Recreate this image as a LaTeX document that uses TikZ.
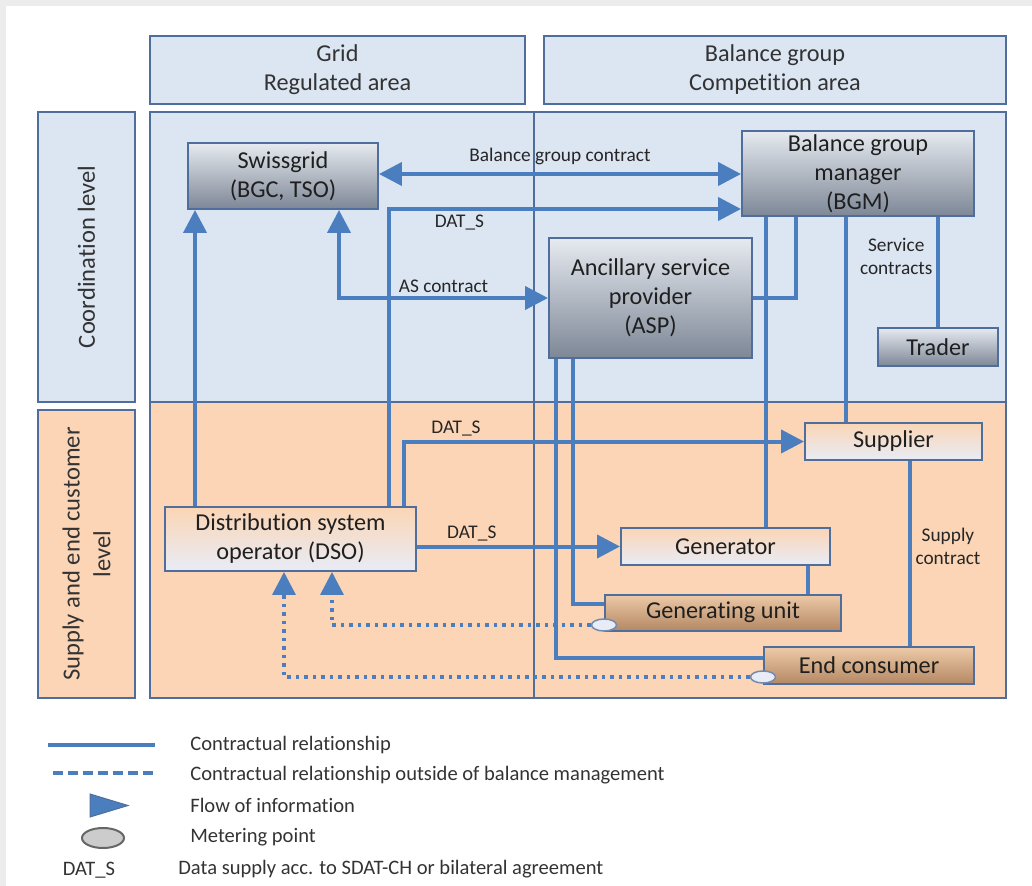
\documentclass[tikz,border=0pt]{standalone}
\usepackage{fontspec}
\setmainfont{Carlito}[Ligatures=NoCommon]
\usetikzlibrary{arrows.meta,shapes.geometric,positioning}

\definecolor{linkblue}{RGB}{74,126,190}
\definecolor{areablue}{RGB}{220,230,242}
\definecolor{areaorange}{RGB}{251,213,181}
\definecolor{frameblue}{RGB}{80,110,155}
\definecolor{boxtop}{RGB}{230,234,240}
\definecolor{boxbottom}{RGB}{125,135,150}
\definecolor{pale}{RGB}{232,236,246}
\definecolor{unittop}{RGB}{238,202,168}
\definecolor{unitbottom}{RGB}{180,136,100}
\definecolor{rimgray}{RGB}{236,236,236}

\tikzset{
  areaframe/.style={draw=frameblue, line width=0.04cm},
  headbox/.style={areaframe, fill=areablue, inner sep=0pt, align=center,
    text=black!80, font=\fontsize{13.8}{16.5}\selectfont},
  sidebox/.style={headbox, font=\fontsize{14}{17.5}\selectfont},
  actor/.style={draw=frameblue, line width=0.04cm, inner sep=0pt, align=center,
    text=black!88, font=\fontsize{13.8}{16.5}\selectfont},
  gridbox/.style={actor, top color=boxtop, bottom color=boxbottom},
  marketbox/.style={actor, top color=areaorange, bottom color=pale},
  unitbox/.style={actor, top color=unittop, bottom color=unitbottom},
  meterpt/.style={ellipse, draw=frameblue!80, fill=pale, line width=0.03cm,
    minimum width=0.5cm, minimum height=0.24cm, inner sep=0pt},
  contract/.style={draw=linkblue, line width=0.08cm},
  infoflow/.style={contract, -{Triangle[length=0.46cm,width=0.46cm]}},
  infoboth/.style={contract, {Triangle[length=0.46cm,width=0.46cm]}-{Triangle[length=0.46cm,width=0.46cm]}},
  metered/.style={contract, line width=0.07cm, dash pattern=on 0.07cm off 0.1cm,
    -{Triangle[length=0.46cm,width=0.46cm]}},
  lbl/.style={font=\fontsize{11}{13}\selectfont, text=black!85, inner sep=2pt, align=center},
  legend/.style={font=\fontsize{11.7}{14}\selectfont, text=black!80, inner sep=0pt, anchor=west}
}

\begin{document}
\begin{tikzpicture}[x=0.02cm,y=-0.02cm]
    \useasboundingbox (0,0) rectangle (1032,886);
    % Page rim
    \fill[rimgray] (0,0) rectangle (1032,6);
    \fill[rimgray] (0,0) rectangle (6,886);

    % Headers
    \node[headbox, minimum width=7.5cm, minimum height=1.36cm] (grid) at (337.5,70) {Grid\\Regulated area};
    \node[headbox, minimum width=9.24cm, minimum height=1.36cm] (bgroup) at (775,70) {Balance group\\Competition area};
    % Level labels
    \node[sidebox, rotate=90, minimum width=5.8cm, minimum height=1.94cm] (coordlevel) at (86.5,257) {Coordination level};
    \node[sidebox, fill=areaorange, rotate=90, minimum width=5.76cm, minimum height=1.94cm] (supplylevel) at (86.5,554) {Supply and end customer\\level};

    % Areas
    \filldraw[areaframe, fill=areablue] (150,112) rectangle (1006,402);
    \filldraw[areaframe, fill=areaorange] (150,402) rectangle (1006,698);
    \draw[areaframe] (534,112) -- (534,698);

    % Nodes
    \node[gridbox, minimum width=3.8cm, minimum height=1.32cm] (swissgrid) at (283,176) {Swissgrid\\(BGC, TSO)};
    \node[gridbox, minimum width=4.64cm, minimum height=1.7cm] (bgm) at (858,173.5) {Balance group\\manager\\(BGM)};
    \node[gridbox, minimum width=4.06cm, minimum height=2.4cm] (asp) at (650.5,298) {Ancillary service\\provider\\(ASP)};
    \node[gridbox, minimum width=2.4cm, minimum height=0.76cm] (trader) at (938,347) {Trader};
    \node[marketbox, minimum width=3.54cm, minimum height=0.74cm] (supplier) at (893.5,441.5) {Supplier};
    \node[marketbox, minimum width=5.02cm, minimum height=1.28cm] (dso) at (290.5,539) {Distribution system\\operator (DSO)};
    \node[marketbox, minimum width=4.18cm, minimum height=0.74cm] (generator) at (725.5,546.5) {Generator};
    \node[unitbox, minimum width=4.72cm, minimum height=0.72cm] (gunit) at (723,612.5) {Generating unit};
    \node[unitbox, minimum width=4.2cm, minimum height=0.74cm] (consumer) at (869,665.5) {End consumer};

    % Exit points
    \coordinate (dsoA) at ([xshift=0.62cm]dso.north west);
    \coordinate (dsoB) at ([xshift=4.5cm]dso.north west);
    \coordinate (dsoC) at ([xshift=4.8cm]dso.north west);
    \coordinate (dsoM1) at ([xshift=3.36cm]dso.south west);
    \coordinate (dsoM2) at ([xshift=2.4cm]dso.south west);
    \coordinate (sgAS) at ([xshift=3.04cm]swissgrid.south west);
    \coordinate (bgmA) at ([xshift=0.5cm]bgm.south west);
    \coordinate (bgmB) at ([xshift=1.1cm]bgm.south west);
    \coordinate (bgmC) at ([xshift=2.1cm]bgm.south west);
    \coordinate (aspA) at ([xshift=0.16cm]asp.south west);
    \coordinate (aspB) at ([xshift=0.5cm]asp.south west);
    \coordinate (genA) at ([xshift=-0.46cm]generator.south east);
    \coordinate (supA) at ([xshift=0.33cm]supplier.south);

    % Edges
    \draw[infoboth] ([yshift=0.04cm]swissgrid.east) -- node[lbl,above=2pt]{Balance group contract} ([yshift=0.04cm]swissgrid.east -| bgm.west);
    \draw[infoflow] (dsoB) |- node[lbl,below,pos=0.6]{DAT\_S} ([yshift=0.16cm]bgm.south west);
    \draw[infoboth] (sgAS) |- node[lbl,above,pos=0.75]{AS contract} (asp.west);
    \draw[infoflow] (dsoA) -- (dsoA |- swissgrid.south);
    \draw[infoflow] (dsoC) |- node[lbl,above,pos=0.565]{DAT\_S} (supplier.west);
    \draw[infoflow] (generator.west -| dso.east) -- node[lbl,above,pos=0.27]{DAT\_S} (generator.west);
    \draw[contract] (asp.east) -| (bgmB);
    \draw[contract] (bgmA) -- (bgmA |- generator.north);
    \draw[contract] (bgmC) -- (bgmC |- supplier.north);
    \draw[contract] (bgm.south -| trader.north) -- node[lbl,left,pos=0.36]{Service\\contracts} (trader.north);
    \draw[contract] (aspB) |- ([yshift=0.18cm]gunit.west);
    \draw[contract] (aspA) |- ([yshift=0.15cm]consumer.west);
    \draw[contract] (genA) -- (genA |- gunit.north);
    \draw[contract] (supA) -- node[lbl,right,pos=0.46]{Supply\\contract} (supA |- consumer.north);
    % Metering points
    \node[meterpt] (meterGU) at (gunit.south west |- 0,625) {};
    \node[meterpt] (meterEC) at (consumer.south west |- 0,677) {};
    \draw[metered] (meterGU.west) -| (dsoM1);
    \draw[metered] (meterEC.west) -| (dsoM2);

    % Legend
    \draw[contract] (48,745) -- (155,745);
    \draw[contract, dash pattern=on 0.2cm off 0.1cm] (53,773) -- (155,773);
    \fill[linkblue, draw=frameblue, line width=0.02cm] (90,794) -- (128,805.5) -- (90,817) -- cycle;
    \node[ellipse, draw=black!60, fill=black!20, line width=0.04cm, minimum width=0.84cm, minimum height=0.4cm] (legmeter) at (103,838) {};
    \node[legend, anchor=center] (legdat) at (89,870) {DAT\_S};
    \node[legend] (legA) at (190,745) {Contractual relationship};
    \node[legend] (legB) at (190,775) {Contractual relationship outside of balance management};
    \node[legend] (legC) at (190,805) {Flow of information};
    \node[legend] (legD) at (190,837) {Metering point};
    \node[legend] (legE) at (178,869) {Data supply acc. to SDAT-CH or bilateral agreement};
\end{tikzpicture}
\end{document}
